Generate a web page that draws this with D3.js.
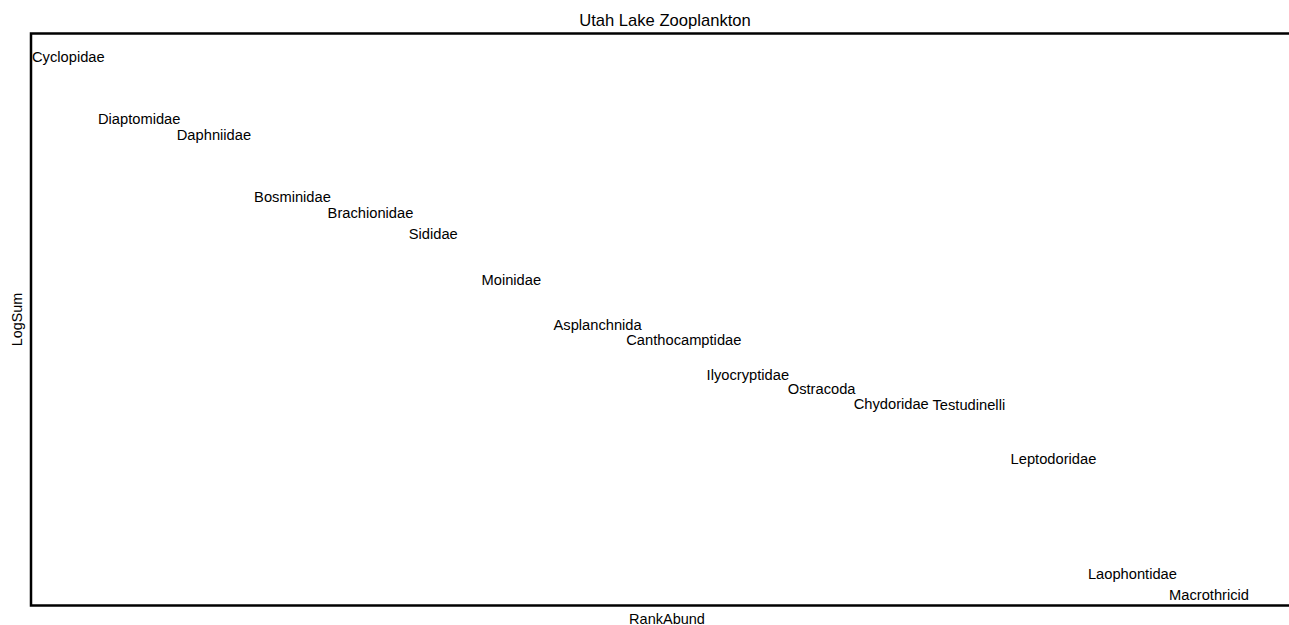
<!DOCTYPE html>
<html>
<head>
<meta charset="utf-8">
<script src="https://cdn.jsdelivr.net/npm/d3@7"></script>
<style>
  html, body { margin: 0; padding: 0; background: #fff; }
  svg { display: block; font-family: "Liberation Sans", Arial, sans-serif; }
</style>
</head>
<body>
<script>
// Data
const families = ["Cyclopidae","Diaptomidae","Daphniidae","Bosminidae","Brachionidae","Sididae","Moinidae","Asplanchnida","Canthocamptidae","Ilyocryptidae","Ostracoda","Chydoridae","Testudinelli","Leptodoridae","Laophontidae","Macrothricid"];
const rankAbund = [1.00, 1.87, 2.91, 3.93, 4.90, 5.97, 6.93, 7.88, 8.84, 9.90, 10.97, 11.84, 12.88, 13.91, 14.93, 16.00];
const logSum = [6.00, 5.43, 5.28, 4.70, 4.55, 4.36, 3.93, 3.51, 3.37, 3.05, 2.92, 2.78, 2.77, 2.27, 1.20, 1.00];

const title = "Utah Lake Zooplankton";
const xTitle = "RankAbund";
const yTitle = "LogSum";

const W = 1289, H = 625;
const frame = { left: 31, top: 33.5, right: 1301, bottom: 605.5 };

const svg = d3.select("body").append("svg").attr("width", W).attr("height", H);

const x = d3.scaleLinear().domain([1, 16]).range([32, 1169]);
const y = d3.scaleLinear().domain([1, 6]).range([595, 57]);

// frame
svg.append("rect")
  .attr("x", frame.left).attr("y", frame.top)
  .attr("width", frame.right - frame.left).attr("height", frame.bottom - frame.top)
  .attr("fill", "none").attr("stroke", "#000").attr("stroke-width", 2.5);

const cx = (frame.left + frame.right) / 2;
const cy = (frame.top + frame.bottom) / 2;

svg.append("text").attr("x", cx - 1).attr("y", 25.5)
  .attr("text-anchor", "middle").attr("font-size", 16.6).attr("fill", "#000").text(title);

svg.append("text").attr("x", cx + 1).attr("y", 623.5)
  .attr("text-anchor", "middle").attr("font-size", 14.5).attr("fill", "#000").text(xTitle);

svg.append("text").attr("transform", `translate(22,${cy}) rotate(-90)`)
  .attr("text-anchor", "middle").attr("font-size", 14.3).attr("fill", "#000").text(yTitle);

const rows = families.map((f, i) => ({ name: f, rank: rankAbund[i], log: logSum[i] }));

svg.append("g").selectAll("text").data(rows).join("text")
  .attr("x", d => x(d.rank))
  .attr("y", d => y(d.log))
  .attr("dy", "0.36em")
  .attr("font-size", 14.7)
  .attr("fill", "#000")
  .text(d => d.name);
</script>
</body>
</html>
